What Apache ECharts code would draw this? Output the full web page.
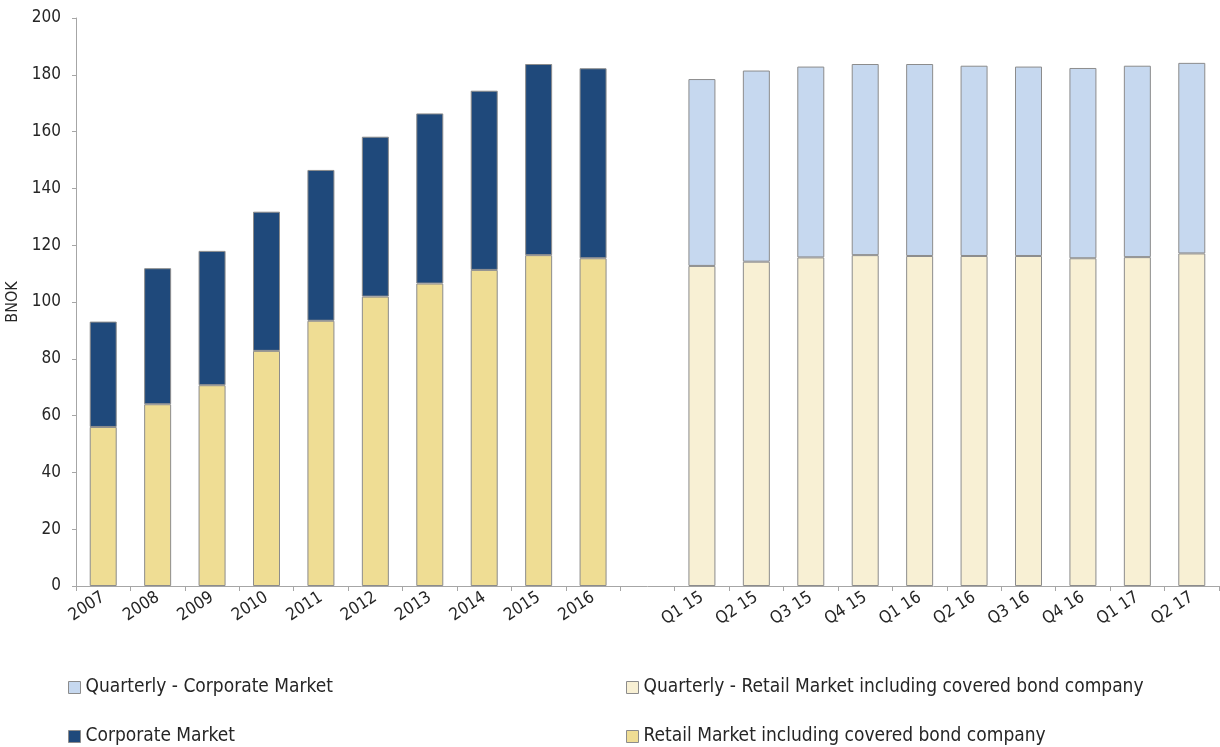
<!DOCTYPE html>
<html>
<head>
<meta charset="utf-8">
<script src="https://cdn.jsdelivr.net/npm/echarts@6/dist/echarts.min.js"></script>
<style>
html,body{margin:0;padding:0;background:#fff;}
#chart{width:1220px;height:747px;}
</style>
</head>
<body>
<div id="chart"></div>
<script>
var categories = ['2007','2008','2009','2010','2011','2012','2013','2014','2015','2016','',
  'Q1 15','Q2 15','Q3 15','Q4 15','Q1 16','Q2 16','Q3 16','Q4 16','Q1 17','Q2 17'];
var annualRetail = [56, 64, 70.7, 82.8, 93.4, 101.9, 106.5, 111.3, 116.5, 115.4];
var annualTotal  = [93.1, 111.9, 118, 131.8, 146.5, 158.2, 166.4, 174.4, 183.8, 182.3];
var quarterlyRetail = [112.7, 114.2, 115.7, 116.5, 116.2, 116.2, 116.2, 115.4, 115.8, 117.1];
var quarterlyTotal  = [178.5, 181.5, 182.9, 183.8, 183.8, 183.2, 182.9, 182.4, 183.2, 184.2];
var yTicks = [0, 200, 20];

var nAnnual = annualRetail.length;
var gap = 1;
function pad(arr, before, after) {
  var out = [];
  for (var i = 0; i < before; i++) out.push('-');
  arr.forEach(function (v) { out.push(v); });
  for (var j = 0; j < after; j++) out.push('-');
  return out;
}
var annualCorp = annualTotal.map(function (t, i) { return +(t - annualRetail[i]).toFixed(2); });
var quarterlyCorp = quarterlyTotal.map(function (t, i) { return +(t - quarterlyRetail[i]).toFixed(2); });
var nQ = quarterlyRetail.length;

var FONT = 'DejaVu Sans Condensed';
var names = {
  qc: 'Quarterly - Corporate Market',
  qr: 'Quarterly - Retail Market including covered bond company',
  c: 'Corporate Market',
  r: 'Retail Market including covered bond company'
};
var border = {borderColor: '#8c8c8c', borderWidth: 1};
function legend(name, left, top) {
  return {
    data: [name], left: left, top: top, icon: 'rect', itemWidth: 12, itemHeight: 12,
    itemGap: 4, padding: 0,
    textStyle: {fontFamily: FONT, fontSize: 19, color: '#262626', padding: [0,0,0,0]},
    itemStyle: {borderColor: '#8c8c8c', borderWidth: 1}
  };
}
var chart = echarts.init(document.getElementById('chart'), null, {renderer: 'canvas'});
chart.setOption({
  animation: false,
  backgroundColor: '#fff',
  grid: {left: 76, right: 1, top: 18, bottom: 161, containLabel: false, outerBoundsMode: 'none'},
  legend: [
    legend(names.qc, 68, 678),
    legend(names.qr, 626, 678),
    legend(names.c, 68, 727),
    legend(names.r, 626, 727)
  ],
  xAxis: {
    type: 'category', data: categories,
    axisLine: {lineStyle: {color: '#a6a6a6', width: 1}},
    axisTick: {show: true, interval: 0, length: 5, lineStyle: {color: '#a6a6a6'}},
    axisLabel: {interval: 0, rotate: 33, margin: 10, fontFamily: FONT, fontSize: 17, color: '#262626'}
  },
  yAxis: {
    type: 'value', min: yTicks[0], max: yTicks[1], interval: yTicks[2],
    name: 'BNOK', nameLocation: 'middle', nameGap: 47, nameRotate: 90,
    nameTextStyle: {fontFamily: FONT, fontSize: 16, color: '#262626'},
    axisLine: {show: true, lineStyle: {color: '#a6a6a6', width: 1}},
    axisTick: {show: true, length: 4, lineStyle: {color: '#a6a6a6'}},
    splitLine: {show: false},
    axisLabel: {fontFamily: FONT, fontSize: 17, color: '#262626', margin: 15}
  },
  series: [
    {name: names.r, type: 'bar', stack: 's', barWidth: 27,
     data: pad(annualRetail, 0, gap + nQ),
     itemStyle: Object.assign({color: '#efdd94'}, border)},
    {name: names.qr, type: 'bar', stack: 's', barWidth: 27,
     data: pad(quarterlyRetail, nAnnual + gap, 0),
     itemStyle: Object.assign({color: '#f8f0d4'}, border)},
    {name: names.c, type: 'bar', stack: 's', barWidth: 27,
     data: pad(annualCorp, 0, gap + nQ),
     itemStyle: Object.assign({color: '#1f497b'}, border)},
    {name: names.qc, type: 'bar', stack: 's', barWidth: 27,
     data: pad(quarterlyCorp, nAnnual + gap, 0),
     itemStyle: Object.assign({color: '#c6d8ef'}, border)}
  ]
});
</script>
</body>
</html>
